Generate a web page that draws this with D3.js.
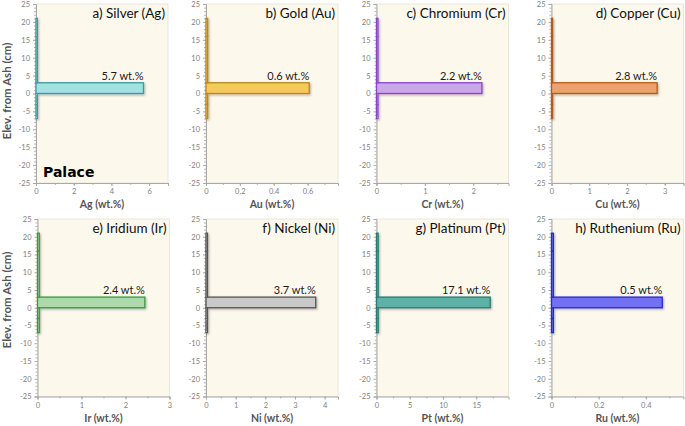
<!DOCTYPE html>
<html><head><meta charset="utf-8">
<script src="https://cdn.jsdelivr.net/npm/d3@7/dist/d3.min.js"></script>
<style>
html,body{margin:0;padding:0;background:#fff;}
svg{display:block;font-family:Lato,"Open Sans",sans-serif;}
</style></head>
<body><svg id="c" width="685" height="426"></svg>
<script>
// ---- data ----
const elevBottom = [-7, -3, 0, 3, 16];
const elevTop    = [-3, 0, 3, 16, 21];
const panelLetters = ["a","b","c","d","e","f","g","h"];
const elementNames = ["Silver","Gold","Chromium","Copper","Iridium","Nickel","Platinum","Ruthenium"];
const symbols      = ["Ag","Au","Cr","Cu","Ir","Ni","Pt","Ru"];
const silver    = [0.07, 0.07, 5.7, 0.07, 0.07];
const gold      = [0.01, 0.01, 0.61, 0.01, 0.01];
const chromium  = [0.03, 0.03, 2.18, 0.03, 0.03];
const copper    = [0.03, 0.03, 2.8, 0.03, 0.03];
const iridium   = [0.04, 0.04, 2.44, 0.04, 0.04];
const nickel    = [0.05, 0.05, 3.7, 0.05, 0.05];
const platinum  = [0.25, 0.25, 17.1, 0.25, 0.25];
const ruthenium = [0.008, 0.008, 0.47, 0.008, 0.008];
const seriesValues = [silver, gold, chromium, copper, iridium, nickel, platinum, ruthenium];
const peakLabels = ["5.7","0.6","2.2","2.8","2.4","3.7","17.1","0.5"];
const xMax   = [7, 0.78, 2.73, 3.5, 3, 4.45, 19.85, 0.56];
const xTicks = [[0,2,4,6],[0,0.2,0.4,0.6],[0,1,2],[0,1,2,3],[0,1,2,3],[0,1,2,3,4],[0,5,10,15],[0,0.2,0.4]];
const xMinorStep = [1, 0.1, 0.5, 0.5, 0.5, 0.5, 2.5, 0.1];
const yTicks = [25,20,15,10,5,0,-5,-10,-15,-20,-25];
const fills   = ["#a3e1e2","#f6c95c","#cba6ea","#eba26f","#abdbab","#c9c9c9","#5fb0a6","#7272f0"];
const strokes = ["#3a9c9e","#b88a1e","#8a45c6","#b9591c","#3f9447","#555555","#2b7a72","#2b2bc9"];

// ---- layout ----
const svg = d3.select("#c");
const plotW = 132;
const lefts = [36, 206, 376.5, 551.5, 37.5, 206, 376.5, 551.5];
const rowTop = [4, 219], rowBot = [183, 396.5];

const defs = svg.append("defs");
const f = defs.append("filter").attr("id","sh").attr("x","-10%").attr("y","-30%").attr("width","130%").attr("height","180%");
f.append("feDropShadow").attr("dx",1).attr("dy",1.2).attr("stdDeviation",0.8).attr("flood-color","#000").attr("flood-opacity",0.3);

seriesValues.forEach((vals, i) => {
  const row = i < 4 ? 0 : 1;
  const x0 = lefts[i], y0 = rowTop[row], y1 = rowBot[row];
  const x = d3.scaleLinear().domain([0, xMax[i]]).range([x0, x0 + plotW]);
  const y = d3.scaleLinear().domain([-25, 25]).range([y1, y0]);
  const g = svg.append("g");

  g.append("rect").attr("x", x0).attr("y", y0).attr("width", plotW).attr("height", y1 - y0)
    .attr("fill", "#fdf8ec").attr("stroke", "#e3e0d8").attr("stroke-width", 0.8);

  const yMinor = d3.range(-25, 26, 1).filter(v => v % 5 !== 0);
  g.append("g").attr("transform", `translate(${x0},0)`)
    .call(d3.axisLeft(y).tickValues(yMinor).tickSize(2).tickFormat(""))
    .call(s => s.select(".domain").remove())
    .call(s => s.selectAll("line").attr("stroke", "#b5b5b5"));
  g.append("g").attr("transform", `translate(${x0},0)`)
    .call(d3.axisLeft(y).tickValues(yTicks).tickSize(3).tickPadding(3).tickFormat(d => String(d)))
    .call(s => s.select(".domain").attr("stroke", "#a8a8a8"))
    .call(s => s.selectAll("line").attr("stroke", "#a8a8a8"))
    .call(s => s.selectAll("text").attr("fill", "#808080").attr("font-size", 7.5).attr("font-family","Lato, sans-serif"));

  const xMinor = d3.range(0, xMax[i] + 1e-9, xMinorStep[i]);
  g.append("g").attr("transform", `translate(0,${y1})`)
    .call(d3.axisBottom(x).tickValues(xMinor).tickSize(2).tickFormat(""))
    .call(s => s.select(".domain").remove())
    .call(s => s.selectAll("line").attr("stroke", "#b5b5b5"));
  g.append("g").attr("transform", `translate(0,${y1})`)
    .call(d3.axisBottom(x).tickValues(xTicks[i]).tickSize(3).tickPadding(3).tickFormat(d => String(d)))
    .call(s => s.select(".domain").attr("stroke", "#a8a8a8"))
    .call(s => s.selectAll("line").attr("stroke", "#a8a8a8"))
    .call(s => s.selectAll("text").attr("fill", "#808080").attr("font-size", 7.5).attr("font-family","Lato, sans-serif"));

  const data = vals.map((v, k) => ({v, b: elevBottom[k], t: elevTop[k]}));
  g.append("g").attr("filter", "url(#sh)").selectAll("rect").data(data).join("rect")
    .attr("x", x(0))
    .attr("y", d => y(d.t))
    .attr("width", d => x(d.v) - x(0))
    .attr("height", d => y(d.b) - y(d.t))
    .attr("fill", fills[i]).attr("stroke", strokes[i]).attr("stroke-width", 1.3);

  const kMax = d3.maxIndex(vals);
  g.append("text").attr("x", x(vals[kMax])).attr("y", y(elevTop[kMax]) - 3)
    .attr("text-anchor", "end").attr("font-size", 11).attr("fill", "#1a1a1a")
    .text(peakLabels[i] + " wt.%");

  g.append("text").attr("x", x0 + plotW - 3).attr("y", y0 + 14)
    .attr("text-anchor", "end").attr("font-size", 13.5).attr("fill", "#111")
    .text(`${panelLetters[i]}) ${elementNames[i]} (${symbols[i]})`);

  g.append("text").attr("x", x0 + plotW / 2).attr("y", y1 + 25)
    .attr("text-anchor", "middle").attr("font-size", 10.5).attr("font-weight", "bold").attr("fill", "#555")
    .text(`${symbols[i]} (wt.%)`);
});

[91, 300].forEach(cy => {
  svg.append("text").attr("transform", `translate(11,${cy}) rotate(-90)`)
    .attr("text-anchor", "middle").attr("font-size", 11.5).attr("font-weight", "bold").attr("fill", "#555")
    .text("Elev. from Ash (cm)");
});

svg.append("text").attr("x", 43).attr("y", 177).attr("font-family", "'DejaVu Sans', sans-serif")
  .attr("font-weight", "bold").attr("font-size", 14).attr("fill", "#000").text("Palace");
</script></body></html>
